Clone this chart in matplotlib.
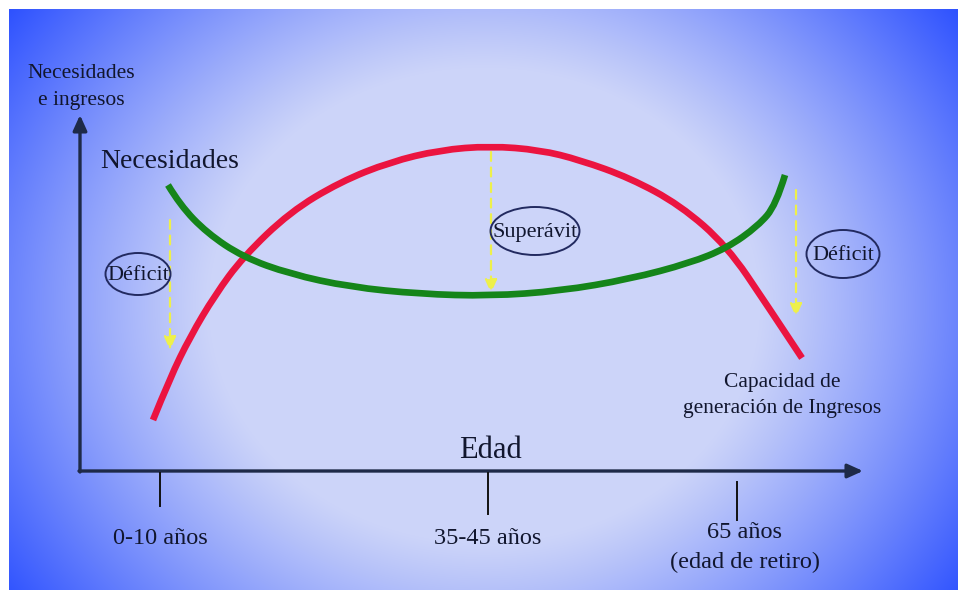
import numpy as np
import matplotlib
matplotlib.use("Agg")
import matplotlib.pyplot as plt
from matplotlib.path import Path
from matplotlib.patches import PathPatch, Ellipse, FancyArrowPatch

# ---- data (in drawing coordinates: x = age axis position, y = level, downwards) ----
income_x = [153, 170, 190, 215, 243, 290, 340, 390, 440, 490, 540, 580, 630, 680, 727, 767, 802]
income_y = [420, 378, 337, 295, 257, 212, 182, 162, 150, 146, 150, 160, 178, 205, 246, 305, 358]

needs_x = [168, 180, 207, 243, 290, 350, 420, 490, 560, 630, 690, 727, 758, 776, 785]
needs_y = [185, 205, 233, 257, 274, 287, 294, 296, 291, 279, 263, 248, 226, 205, 175]

tick_pos = [160, 488, 737]
tick_labels = ["0-10 años", "35-45 años", "65 años\n(edad de retiro)"]

gap_x = [170, 491, 796]
gap_top = [220, 152, 190]
gap_bottom = [350, 293, 317]
gap_labels = ["Déficit", "Superávit", "Déficit"]

SERIF = ["Liberation Serif", "DejaVu Serif"]
TXT = "#11162e"

fig = plt.figure(figsize=(9.58, 5.90), dpi=100)
fig.patch.set_facecolor("white")
ax = fig.add_axes([0, 0, 1, 1])
ax.set_xlim(0, 958)
ax.set_ylim(590, 0)
ax.axis("off")

# ---- background radial gradient ----
W, H = 949, 581
gx, gy = np.meshgrid(np.arange(W) + 9, np.arange(H) + 9)
r = np.sqrt(((gx - 484) / 475.0) ** 2 + ((gy - 305) / 410.0) ** 2)
t = np.clip((r - 0.58) / 0.66, 0, 1) ** 1.1
c0 = np.array([204, 212, 249]) / 255.0
c1 = np.array([44, 80, 255]) / 255.0
img = c0[None, None, :] * (1 - t[..., None]) + c1[None, None, :] * t[..., None]
ax.imshow(img, extent=(9, 958, 590, 9), aspect="auto", zorder=0, interpolation="bilinear")


def smooth_path(xs, ys):
    verts = [(xs[0], ys[0])]
    codes = [Path.MOVETO]
    n = len(xs)
    for i in range(1, n - 1):
        if i < n - 2:
            end = ((xs[i] + xs[i + 1]) / 2.0, (ys[i] + ys[i + 1]) / 2.0)
        else:
            end = (xs[-1], ys[-1])
        verts += [(xs[i], ys[i]), end]
        codes += [Path.CURVE3, Path.CURVE3]
    return Path(verts, codes)


# ---- axes arrows ----
axis_col = "#1e2a48"
ax.add_patch(FancyArrowPatch((80, 472), (80, 115), arrowstyle="-|>,head_length=4.2,head_width=1.9",
                             color=axis_col, lw=2.4, mutation_scale=2.2, zorder=3, shrinkA=0, shrinkB=0))
ax.add_patch(FancyArrowPatch((79, 471), (863, 471), arrowstyle="-|>,head_length=4.2,head_width=1.9",
                             color=axis_col, lw=2.4, mutation_scale=2.2, zorder=3, shrinkA=0, shrinkB=0))

# tick marks
tick_top = [473, 473, 482]
tick_bot = [506, 514, 520]
for xp, a, b in zip(tick_pos, tick_top, tick_bot):
    ax.plot([xp, xp], [a, b], color="#111111", lw=1.4, zorder=3)

# tick labels
ax.text(tick_pos[0], 539, tick_labels[0], ha="center", va="center", fontsize=17.5,
        family=SERIF, color=TXT)
ax.text(tick_pos[1], 539, tick_labels[1], ha="center", va="center", fontsize=17.5,
        family=SERIF, color=TXT)
l1, l2 = tick_labels[2].split("\n")
ax.text(745, 532, l1, ha="center", va="center", fontsize=17.5, family=SERIF, color=TXT)
ax.text(745, 562, l2, ha="center", va="center", fontsize=17.5, family=SERIF, color=TXT)

ax.text(490, 450, "Edad", ha="center", va="center", fontsize=22, family=SERIF, color=TXT)

# y label
ax.text(81, 73, "Necesidades", ha="center", va="center", fontsize=15.5, family=SERIF, color=TXT)
ax.text(81, 100, "e ingresos", ha="center", va="center", fontsize=15.5, family=SERIF, color=TXT)

# ---- curves ----
ax.add_patch(PathPatch(smooth_path(income_x, income_y), facecolor="none", edgecolor="#eb1440",
                       lw=4.8, capstyle="butt", zorder=4))
ax.add_patch(PathPatch(smooth_path(needs_x, needs_y), facecolor="none", edgecolor="#15851a",
                       lw=4.8, capstyle="butt", zorder=5))

ax.text(100, 162, "Necesidades", ha="left", va="center", fontsize=20, family=SERIF, color=TXT)
ax.text(782, 382, "Capacidad de", ha="center", va="center", fontsize=15.5, family=SERIF, color=TXT)
ax.text(782, 408, "generación de Ingresos", ha="center", va="center", fontsize=15.5,
        family=SERIF, color=TXT)

# ---- gap arrows (dashed yellow) ----
for xg, a, b in zip(gap_x, gap_top, gap_bottom):
    ax.add_patch(FancyArrowPatch((xg, a), (xg, b), arrowstyle="-|>,head_length=4,head_width=1.8",
                                 color="#eef04a", lw=1.6, linestyle=(0, (4, 3)), mutation_scale=2,
                                 zorder=6, shrinkA=0, shrinkB=0))

# ---- ellipses with labels ----
ell_cx = [138, 535, 843]
ell_cy = [274, 231, 254]
ell_w = [65, 89, 73]
ell_h = [42, 48, 48]
for cx, cy, w, h, lab in zip(ell_cx, ell_cy, ell_w, ell_h, gap_labels):
    ax.add_patch(Ellipse((cx, cy), w, h, facecolor="none", edgecolor="#222a60", lw=1.4, zorder=7))
    ax.text(cx, cy + 1, lab, ha="center", va="center", fontsize=16, family=SERIF, color=TXT,
            zorder=8)

fig.savefig("out.png", dpi=100, facecolor=fig.get_facecolor())
